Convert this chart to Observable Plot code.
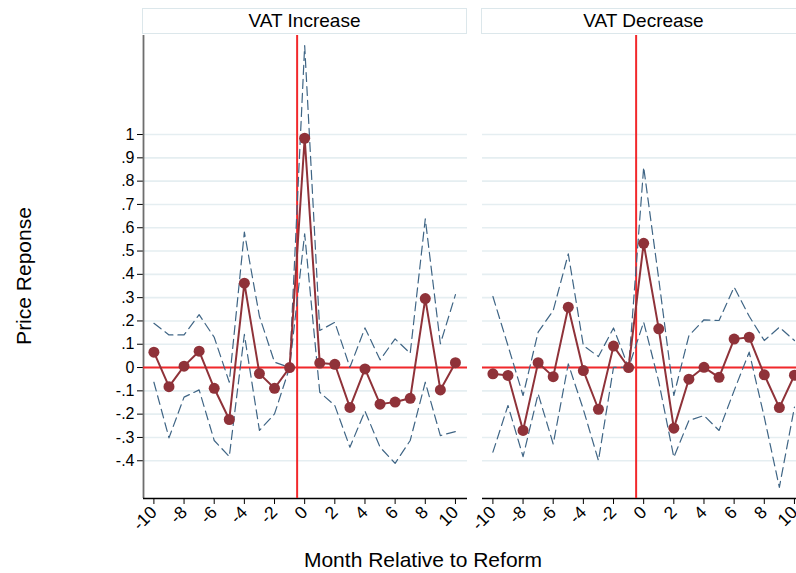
<!DOCTYPE html>
<html><head><meta charset="utf-8">
<script src="https://cdn.jsdelivr.net/npm/d3@7"></script>
<script src="https://cdn.jsdelivr.net/npm/@observablehq/plot@0.6"></script>
<style>
html,body{margin:0;padding:0;background:#fff;overflow:hidden;}
#wrap{position:relative;width:796px;height:573px;overflow:hidden;font-family:"Liberation Sans",Arial,sans-serif;background:#fff;}
#wrap svg{position:absolute;left:0;top:0;max-width:none;overflow:visible;}
#wrap svg g[aria-label="x-axis tick label"]{font-size:17.5px;}
.hdr{position:absolute;box-sizing:border-box;border:1px solid #dce7eb;background:#fff;text-align:center;font-size:19px;color:#000;white-space:nowrap;}
.ttl{position:absolute;font-size:21px;line-height:21px;color:#000;white-space:nowrap;}
</style></head><body><div id="wrap"></div>
<script>
// ---- data ----
const panels = ["VAT Increase", "VAT Decrease"];
const months = [-10,-9,-8,-7,-6,-5,-4,-3,-2,-1,0,1,2,3,4,5,6,7,8,9,10];
const incCoef  = [0.066,-0.082,0.006,0.070,-0.089,-0.223,0.362,-0.026,-0.089,0,0.984,0.019,0.014,-0.171,-0.006,-0.157,-0.148,-0.132,0.296,-0.096,0.021];
const incUpper = [0.190,0.140,0.140,0.227,0.130,-0.063,0.581,0.220,0.023,0,1.382,0.159,0.194,0.001,0.170,0.033,0.123,0.061,0.638,0.102,0.313];
const incLower = [-0.063,-0.302,-0.127,-0.096,-0.313,-0.382,0.142,-0.270,-0.199,0,0.574,-0.106,-0.163,-0.342,-0.187,-0.342,-0.411,-0.313,-0.063,-0.292,-0.275];
const decCoef  = [-0.027,-0.034,-0.270,0.021,-0.039,0.259,-0.013,-0.179,0.092,0,0.533,0.166,-0.260,-0.050,0.001,-0.042,0.122,0.130,-0.031,-0.172,-0.033];
const decUpper = [0.305,0.094,-0.120,0.152,0.245,0.488,0.094,0.047,0.170,0,0.860,0.380,-0.120,0.137,0.205,0.202,0.345,0.220,0.116,0.173,0.116];
const decLower = [-0.363,-0.163,-0.382,-0.113,-0.328,0.016,-0.180,-0.399,0.001,0,0.195,-0.060,-0.385,-0.227,-0.206,-0.270,-0.099,0.066,-0.213,-0.514,-0.170];
const xTicks = [-10,-8,-6,-4,-2,0,2,4,6,8,10];
const xTickLabels = ["-10","-8","-6","-4","-2","0","2","4","6","8","10"];
const yTicks = [-0.4,-0.3,-0.2,-0.1,0,0.1,0.2,0.3,0.4,0.5,0.6,0.7,0.8,0.9,1];
const yTickLabels = ["-.4","-.3","-.2","-.1","0",".1",".2",".3",".4",".5",".6",".7",".8",".9","1"];
const xDomain = [-10.69, 10.80];
const yDomain = [-0.562, 1.425];
const reformLine = -0.5;
const yTitle = "Price Reponse";
const xTitle = "Month Relative to Reform";

const series = {
  "VAT Increase": {coef: incCoef, hi: incUpper, lo: incLower},
  "VAT Decrease": {coef: decCoef, hi: decUpper, lo: decLower}
};
const rows = panels.flatMap(p => months.map((m, i) => ({
  panel: p, month: m, coef: series[p].coef[i], hi: series[p].hi[i], lo: series[p].lo[i]
})));

const RED = "#f2282b", CI = "#3f6585", MAIN = "#8f3239";

const chart = Plot.plot({
  width: 806, height: 573,
  marginTop: 35, marginBottom: 75, marginLeft: 143, marginRight: 0,
  style: {fontFamily: "'Liberation Sans', Arial, sans-serif", fontSize: "16px", color: "#000", background: "transparent", overflow: "visible"},
  fx: {domain: panels, paddingInner: 15/339, paddingOuter: 0, axis: null, label: null},
  x: {domain: xDomain, ticks: xTicks, tickFormat: d => xTickLabels[xTicks.indexOf(d)], tickRotate: -45, tickSize: 6, tickPadding: 5, label: null},
  y: {domain: yDomain, ticks: yTicks, tickFormat: d => yTickLabels[yTicks.indexOf(d)], tickSize: 6, tickPadding: 3, label: null},
  marks: [
    Plot.gridY(yTicks, {stroke: "#e5eef1", strokeOpacity: 1, strokeWidth: 1.6}),
    Plot.ruleX([xDomain[0]], {fx: [panels[0]], stroke: "#6e6e6e", strokeWidth: 1.8}),
    Plot.ruleY([yDomain[0]], {stroke: "#000", strokeWidth: 1.6}),
    Plot.ruleY([0], {stroke: RED, strokeWidth: 2}),
    Plot.ruleX([reformLine], {stroke: RED, strokeWidth: 2}),
    Plot.line(rows, {x: "month", y: "hi", fx: "panel", stroke: CI, strokeWidth: 1.2, strokeDasharray: "9,5"}),
    Plot.line(rows, {x: "month", y: "lo", fx: "panel", stroke: CI, strokeWidth: 1.2, strokeDasharray: "9,5"}),
    Plot.line(rows, {x: "month", y: "coef", fx: "panel", stroke: MAIN, strokeWidth: 2}),
    Plot.dot(rows, {x: "month", y: "coef", fx: "panel", r: 5.5, fill: MAIN, stroke: "none"})
  ]
});
chart.style.maxWidth = "none";
const wrap = document.getElementById("wrap");
wrap.appendChild(chart);

// panel headers placed from the fx scale
const fx = chart.scale("fx");
panels.forEach(p => {
  const left = fx.apply(p);
  const d = document.createElement("div");
  d.className = "hdr";
  d.textContent = p;
  d.style.left = (left - 1) + "px";
  d.style.width = (fx.bandwidth + 1) + "px";
  d.style.top = "8px";
  d.style.height = "26px";
  d.style.lineHeight = "24px";
  wrap.appendChild(d);
});

const yt = document.createElement("div");
yt.className = "ttl";
yt.textContent = yTitle;
yt.style.left = "23px"; yt.style.top = "276px";
yt.style.transform = "translate(-50%,-50%) rotate(-90deg)";
wrap.appendChild(yt);

const xt = document.createElement("div");
xt.className = "ttl";
xt.textContent = xTitle;
xt.style.left = "423px"; xt.style.top = "549px";
xt.style.transform = "translateX(-50%)";
wrap.appendChild(xt);
</script>
</body></html>
